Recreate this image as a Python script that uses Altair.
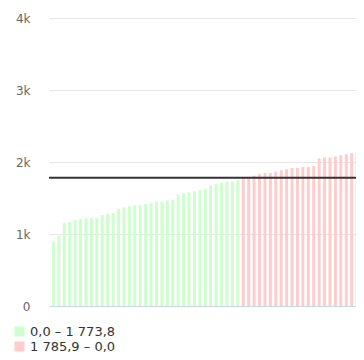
import altair as alt
import pandas as pd

# Sorted values (only the visible part of the chart)
values = [887, 975, 1152, 1166, 1194, 1208, 1222, 1222, 1222, 1264,
          1282, 1292, 1343, 1371, 1385, 1399, 1399, 1415, 1429, 1450,
          1450, 1464, 1478, 1548, 1566, 1580, 1594, 1614, 1622, 1678,
          1698, 1712, 1726, 1730, 1745,
          1786, 1792, 1810, 1832, 1846, 1846, 1866, 1884, 1898, 1916,
          1916, 1930, 1930, 1944, 2048, 2062, 2062, 2076, 2094, 2108,
          2122, 2136, 2164]
group_labels = ["0,0 – 1 773,8", "1 785,9 – 0,0"]
group_colors = ["#ccffcc", "#ffcccc"]
threshold = 1780
mean_value = 1780
y_ticks = [0, 1000, 2000, 3000, 4000]

df = pd.DataFrame({
    "idx": list(range(len(values))),
    "value": values,
    "group": [group_labels[0] if v < threshold else group_labels[1] for v in values],
})

FONT = "DejaVu Sans"

bars = alt.Chart(df).mark_bar().encode(
    x=alt.X("idx:O", sort=None,
            scale=alt.Scale(paddingInner=0.45, paddingOuter=0.55, range=[0, 318]),
            axis=alt.Axis(labels=False, ticks=False, title=None,
                          domainColor="#ccd6eb", domainWidth=1, grid=False)),
    y=alt.Y("value:Q",
            scale=alt.Scale(domain=[0, 4000], nice=False),
            axis=alt.Axis(values=y_ticks, title=None,
                          labelExpr="datum.value == 0 ? '0' : (datum.value / 1000) + 'k'",
                          domain=False, ticks=False, labelPadding=19,
                          labelFont=FONT, labelFontSize=12, labelColor="#666666",
                          gridColor="#e6e6e6", gridWidth=1)),
    color=alt.Color("group:N",
                    scale=alt.Scale(domain=group_labels, range=group_colors),
                    legend=alt.Legend(title=None, orient="none", legendX=-36, legendY=307,
                                      direction="vertical", symbolType="square",
                                      symbolSize=100, symbolStrokeWidth=0,
                                      labelFont=FONT, labelFontSize=13,
                                      labelColor="#333333", padding=0, rowPadding=1)),
)

mean_df = pd.DataFrame({"mean": [mean_value]})
rule = alt.Chart(mean_df).mark_rule(color="#333333", strokeWidth=2).encode(
    y=alt.Y("mean:Q")
)

chart = alt.layer(bars, rule).properties(
    width=307, height=288,
    padding={"left": 41, "top": 10, "right": 0, "bottom": 46},
    autosize=alt.AutoSizeParams(type="none"),
).configure_view(stroke=None)

chart.save("out.html", embed_options={"renderer": "svg", "actions": False})
